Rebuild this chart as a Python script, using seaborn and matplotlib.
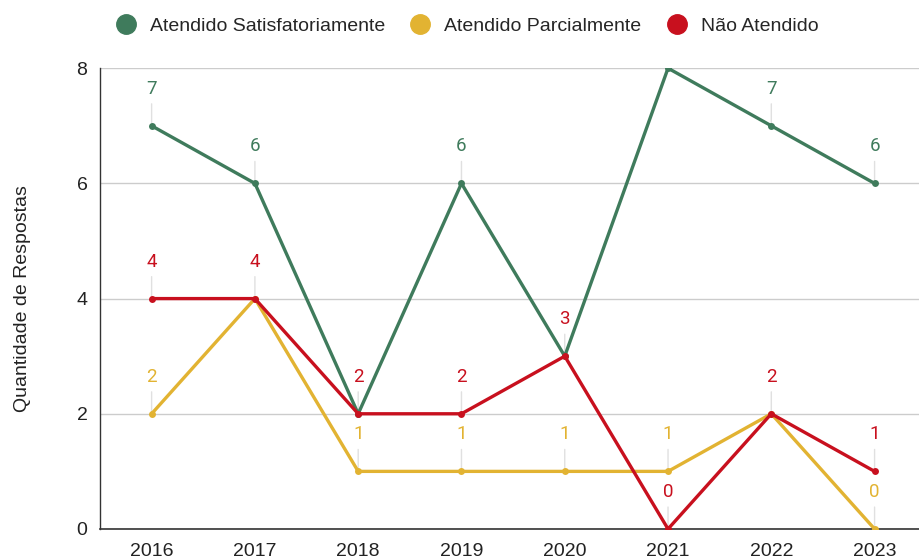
import pandas as pd
import matplotlib.pyplot as plt
import seaborn as sns

anos = [2016, 2017, 2018, 2019, 2020, 2021, 2022, 2023]
satisfatorio = [7, 6, 2, 6, 3, 8, 7, 6]
parcial = [2, 4, 1, 1, 1, 1, 2, 0]
nao_atendido = [4, 4, 2, 2, 3, 0, 2, 1]

series = ['Atendido Satisfatoriamente', 'Atendido Parcialmente', 'Não Atendido']
cores = ['#3f7b5c', '#e2b332', '#c8101e']

df = pd.DataFrame({
    'Ano': anos * 3,
    'Respostas': satisfatorio + parcial + nao_atendido,
    'Serie': [series[0]] * 8 + [series[1]] * 8 + [series[2]] * 8,
})
df['pos'] = df['Ano'] - anos[0]

sns.set_style('white')
plt.rcParams['font.family'] = ['Liberation Sans', 'DejaVu Sans']

fig = plt.figure(figsize=(9.19, 5.59), dpi=100)
ax = fig.add_axes([0.1088, 0.0537, 0.8912, 0.8243])

# data labels with leader lines; a label hidden when a later series sits on the same point
for i, (serie, cor) in enumerate(zip(series, cores)):
    sub = df[df['Serie'] == serie]
    later = df[df['Serie'].isin(series[i + 1:])]
    for _, r in sub.iterrows():
        if r['Respostas'] >= 8:
            continue
        same = later[(later['pos'] == r['pos']) & (later['Respostas'] == r['Respostas'])]
        if len(same):
            continue
        ax.annotate(str(r['Respostas']), xy=(r['pos'], r['Respostas']),
                    xytext=(0, 37), textcoords='offset pixels',
                    ha='center', va='center', fontsize=13.5, color=cor,
                    family=['Roboto', 'DejaVu Sans'],
                    arrowprops=dict(arrowstyle='-', color='#e0e0e0', lw=1,
                                    shrinkA=2, shrinkB=0),
                    annotation_clip=False)

sns.lineplot(data=df, x='pos', y='Respostas', hue='Serie', hue_order=series,
             palette=cores, marker='o', markersize=5, markeredgewidth=0,
             linewidth=2.4, ax=ax, zorder=3, legend=False)

ax.set_xlim(-0.5, 7.43)
ax.set_ylim(0, 8)
ax.set_xticks(range(len(anos)))
ax.set_xticklabels([str(a) for a in anos])
ax.set_yticks([0, 2, 4, 6, 8])
ax.tick_params(axis='both', labelsize=14, colors='#222222', length=0)
ax.tick_params(axis='x', pad=10)
ax.tick_params(axis='y', pad=9)
ax.grid(axis='y', color='#cccccc', lw=1)
ax.set_axisbelow(True)
ax.set_xlabel('')
ax.set_ylabel('Quantidade de Respostas', fontsize=14, color='#222222', labelpad=33)

for s in ['top', 'right']:
    ax.spines[s].set_visible(False)
ax.spines['left'].set_color('#333333')
ax.spines['bottom'].set_color('#333333')
ax.spines['left'].set_linewidth(1)
ax.spines['bottom'].set_linewidth(1.2)

handles = [plt.Line2D([], [], marker='o', ls='', color=c, markersize=14) for c in cores]
fig.legend(handles, series, loc='center', bbox_to_anchor=(0.503, 0.953), ncol=3,
           frameon=False, fontsize=14, handletextpad=0.25, columnspacing=0.8)

fig.savefig('out.png', dpi=100)
